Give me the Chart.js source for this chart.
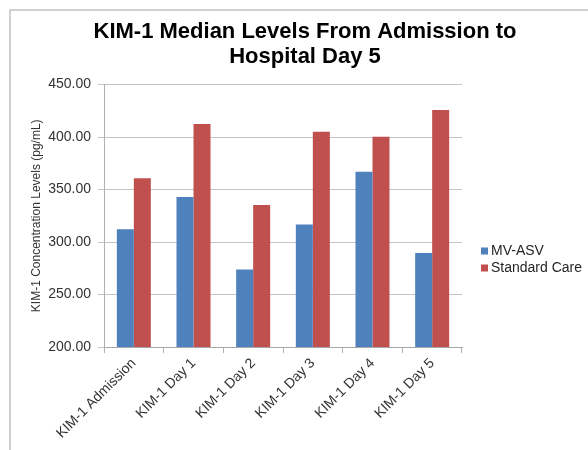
<!DOCTYPE html>
<html>
<head>
<meta charset="utf-8">
<script src="https://cdn.jsdelivr.net/npm/chart.js@4"></script>
<style>
  html, body { margin: 0; padding: 0; background: #ffffff; }
  #wrap { position: relative; width: 588px; height: 450px; overflow: hidden; }
  #frame { position: absolute; left: 9px; top: 9px; width: 600px; height: 460px;
           border-left: 2px solid #d0d0d0; border-top: 2px solid #d0d0d0; }
  canvas { position: absolute; left: 0; top: 0; }
</style>
</head>
<body>
<div id="wrap">
  <div id="frame"></div>
  <canvas id="c" width="588" height="450"></canvas>
</div>
<script>
const categories = ['KIM-1 Admission', 'KIM-1 Day 1', 'KIM-1 Day 2', 'KIM-1 Day 3', 'KIM-1 Day 4', 'KIM-1 Day 5'];
const mvAsv = [312.1, 343.0, 273.9, 316.6, 366.9, 289.5];
const standardCare = [360.8, 412.4, 335.4, 405.1, 400.3, 425.8];
const seriesNames = ['MV-ASV', 'Standard Care'];
const titleLines = ['KIM-1 Median Levels From Admission to', 'Hospital Day 5'];
const yAxisTitle = 'KIM-1 Concentration Levels (pg/mL)';
const yMin = 200, yMax = 450, yStep = 50;

const FONT = "'Liberation Sans', Arial, Helvetica, sans-serif";

const sideLegend = {
  id: 'sideLegend',
  afterDraw(chart) {
    const ctx = chart.ctx;
    ctx.save();
    ctx.font = '14px ' + FONT;
    ctx.textBaseline = 'middle';
    ctx.textAlign = 'left';
    chart.data.datasets.forEach((ds, i) => {
      const y = 251 + i * 17;
      ctx.fillStyle = ds.backgroundColor;
      ctx.fillRect(481, y - 3.5, 7, 7);
      ctx.fillStyle = '#262626';
      ctx.fillText(ds.label, 491, y + 0.5);
    });
    ctx.restore();
  }
};

new Chart(document.getElementById('c'), {
  type: 'bar',
  data: {
    labels: categories,
    datasets: [
      { label: seriesNames[0], data: mvAsv, backgroundColor: '#4F81BD', categoryPercentage: 0.57, barPercentage: 1.0 },
      { label: seriesNames[1], data: standardCare, backgroundColor: '#C0504D', categoryPercentage: 0.57, barPercentage: 1.0 }
    ]
  },
  options: {
    responsive: false,
    animation: false,
    devicePixelRatio: 1,
    layout: { padding: { left: 22, right: 0, top: 0, bottom: 0 } },
    plugins: {
      legend: { display: false },
      tooltip: { enabled: false },
      title: {
        display: true,
        text: titleLines,
        color: '#000000',
        font: { family: FONT, size: 22, weight: 'bold', lineHeight: 1.15 },
        padding: { top: 19.3, bottom: 14.7 }
      }
    },
    scales: {
      x: {
        afterFit: s => { s.height = 103; },
        grid: { display: true, drawOnChartArea: false, color: '#b0b0b0', tickLength: 6, offset: true },
        border: { color: '#a8a8a8' },
        ticks: {
          color: '#333333',
          font: { family: FONT, size: 14 },
          minRotation: 45, maxRotation: 45,
          padding: 2,
          autoSkip: false
        }
      },
      y: {
        min: yMin, max: yMax,
        afterFit: s => { s.width = 82; },
        grid: { color: '#c4c4c4', tickLength: 6 },
        border: { color: '#b0b0b0' },
        ticks: {
          stepSize: yStep,
          color: '#333333',
          font: { family: FONT, size: 14 },
          padding: 7,
          callback: v => Number(v).toFixed(2)
        },
        title: {
          display: true,
          text: yAxisTitle,
          color: '#333333',
          font: { family: FONT, size: 12 },
          padding: { top: 7, bottom: 0 }
        }
      },
      yRight: {
        position: 'right',
        display: true,
        afterFit: s => { s.width = 126; },
        grid: { display: false },
        border: { display: false },
        ticks: { display: false }
      }
    }
  },
  plugins: [sideLegend]
});
</script>
</body>
</html>
